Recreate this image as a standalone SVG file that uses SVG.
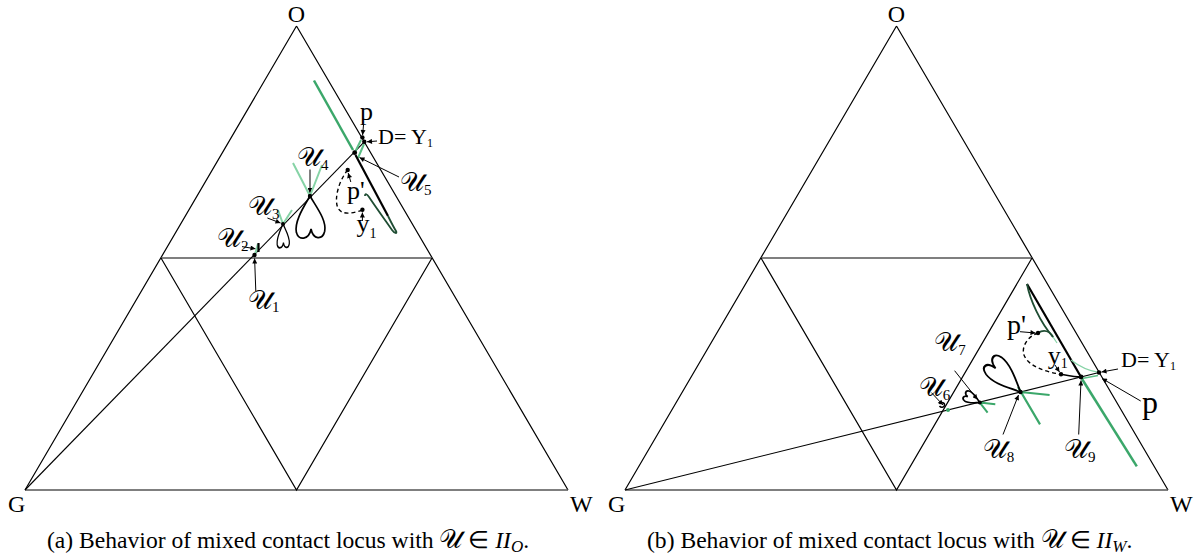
<svg xmlns="http://www.w3.org/2000/svg" xmlns:xlink="http://www.w3.org/1999/xlink" width="1202" height="560" viewBox="0 0 1202 560">
<style>
.edge{stroke:#000;stroke-width:1.2;fill:none}
.mid{stroke:#555;stroke-width:1.6;fill:none}
.ln{stroke:#000;stroke-width:1.1;fill:none}
.arr{stroke:#000;stroke-width:1;fill:none;marker-end:url(#ah)}
.g{stroke:#3ba76a;stroke-width:2.5;fill:none}
.lg{stroke:#86d3a6;stroke-width:2;fill:none}
.dg{stroke:#1f4d33;stroke-width:1.8;fill:none}
.bk{stroke:#000;stroke-width:2.2;fill:none}
.dash{stroke:#000;stroke-width:1.4;fill:none;stroke-dasharray:4 3}
.dot{fill:#000}
.heart{stroke:#000;stroke-width:1.6;fill:none}
text{font-family:"Liberation Serif","Times New Roman",serif;fill:#000}
.v{font-size:24px}
.u{font-size:27px}
.s{font-size:15px}
.cap{font-size:23.6px}
</style>
<defs>
<marker id="ah" viewBox="0 0 10 10" refX="10" refY="5" markerWidth="7" markerHeight="5" markerUnits="userSpaceOnUse" orient="auto"><path d="M0,0 L10,5 L0,10 Z" fill="#000"/></marker>
<path id="heart" d="M0,0 C -6,-10 -16,-22 -14,-32 C -12,-40 -3,-40 -1,-30 C 1,-40 11,-41 13,-33 C 15,-23 6,-10 0,0 Z"/>
</defs>

<g id="left-triangle">
<path class="edge" d="M296.5,26 L25,490 M296.5,26 L568,490"/>
<path class="mid" d="M161,258 L432,258 M25,490 L568,490"/>
<path class="edge" d="M161,258 L296.5,490 L432,258"/>
<text class="v" x="296.5" y="22" text-anchor="middle">O</text>
<text class="v" x="8" y="512">G</text>
<text class="v" x="570" y="512">W</text>
</g>

<g id="right-triangle">
<path class="edge" d="M896.5,26 L625,490 M896.5,26 L1168,490"/>
<path class="mid" d="M761,258 L1032,258 M625,490 L1168,490"/>
<path class="edge" d="M761,258 L896.5,490 L1032,258"/>
<text class="v" x="896.5" y="22" text-anchor="middle">O</text>
<text class="v" x="608" y="512">G</text>
<text class="v" x="1170" y="512">W</text>
</g>

<g id="connectors">
<path class="ln" d="M25,490 L364.3,141.8"/>
<path class="ln" d="M625,490 L1099,372.5"/>
<!-- left arrows -->
<path class="arr" d="M363.6,124 L362.6,135"/>
<path class="arr" d="M377,141 L367,141.8"/>
<path class="arr" d="M350.8,182 L348.2,173"/>
<path class="arr" d="M362.4,221 L362.4,212.5"/>
<path class="arr" d="M399,177 L359.5,157.5"/>
<path class="arr" d="M310,169.5 L310,193"/>
<path class="arr" d="M267.4,218 L280.5,223"/>
<path class="arr" d="M242,246.6 L255.5,248.8"/>
<path class="arr" d="M255.8,291 L254.6,258.5"/>
<!-- right arrows -->
<path class="arr" d="M1020,331.7 L1035.5,333"/>
<path class="arr" d="M1055,365 L1059.5,372"/>
<path class="arr" d="M1118,369 L1101.5,372"/>
<path class="arr" d="M1140.7,401 L1102,378.5"/>
<path class="arr" d="M1078.7,434.5 L1081,380.5"/>
<path class="arr" d="M1003,434.5 L1018.5,395"/>
<path class="arr" d="M954.6,370.7 L977.5,399.5"/>
<path class="arr" d="M931.4,392.6 L943,405"/>
</g>

<g id="left-loci">
<path class="g" d="M314,80.5 L353,150"/>
<path class="lg" d="M354.7,152.7 L361,140 M358,158 L364,144" style="stroke:#5cbf86"/>
<path class="lg" d="M310,196 L293,163 M310,196 L322,165"/>
<path class="lg" d="M283,224 L278,210 M283,224 L292,210"/>
<path class="lg" d="M255.5,253 L258,244" style="stroke-width:2.2"/>
<path class="bk" d="M258.5,243 L258.5,252"/>
<use href="#heart" xlink:href="#heart" class="heart" vector-effect="non-scaling-stroke" transform="translate(310,196) rotate(180) scale(1.05,1.1)"/>
<use href="#heart" xlink:href="#heart" class="heart" transform="translate(283,224) rotate(180) scale(0.45,0.62)" style="stroke-width:2.8"/>
<path class="bk" d="M355.5,155 L388,216"/>
<path class="dg" d="M388,216 C 391,222 394,228 396,231 C 397.5,234 394.5,233.5 392,230 C 385,220 375,206 369,197 C 367,194 365,193 365,196"/>
<path class="dash" d="M347.7,170 C 338,182 334,200 338,208 C 342,216 354,213 362.4,210"/>
<circle class="dot" cx="254.5" cy="255" r="2.2"/>
<circle class="dot" cx="283" cy="224" r="2"/>
<circle class="dot" cx="310" cy="196" r="2.2"/>
<circle class="dot" cx="354.7" cy="152.7" r="2.4"/>
<circle class="dot" cx="362.4" cy="137.4" r="2.2"/>
<circle class="dot" cx="364.3" cy="141.8" r="2.2"/>
<circle class="dot" cx="347.7" cy="170" r="2.2"/>
<circle class="dot" cx="362.4" cy="209.7" r="2.2"/>
</g>

<g id="left-labels">
<text x="360" y="120" style="font-size:26px">p</text>
<text x="378" y="143.6" style="font-size:22px">D= Y<tspan dy="3" style="font-size:12px">1</tspan></text>
<text x="347" y="199" style="font-size:26px">p'</text>
<text x="356.6" y="232" style="font-size:26px">y<tspan dy="6" style="font-size:14px">1</tspan></text>
<text class="u" x="400" y="191">𝒰<tspan class="s" dy="4">5</tspan></text>
<text class="u" x="297" y="166">𝒰<tspan class="s" dy="4">4</tspan></text>
<text class="u" x="248" y="214.8">𝒰<tspan class="s" dy="4">3</tspan></text>
<text class="u" x="217" y="246.6">𝒰<tspan class="s" dy="4">2</tspan></text>
<text class="u" x="248" y="308.7">𝒰<tspan class="s" dy="3">1</tspan></text>
</g>

<g id="right-loci">
<path class="bk" d="M1027,284 L1081,377"/>
<path class="g" d="M1082,379 L1136.8,466.4"/>
<path class="dg" d="M1027,284 C 1030,300 1040,322 1053,337"/>
<path class="dg" d="M1038,333 C 1044,329 1050,331 1053,337"/>
<path class="lg" d="M1053,337 L1057,343" style="stroke-width:1.2"/>
<path class="lg" d="M1071,360 C 1080,367 1089,371 1099,372.5" style="stroke-width:1.3"/>
<path class="lg" d="M1082,378.5 L1098,375.5" style="stroke-width:1.5;stroke:#5cbf86"/>
<path class="dash" d="M1038,333 C 1028,336 1021,347 1024,355 C 1028,366 1045,372 1061,374.2"/>
<path class="dg" d="M1061,374.2 C 1068,375.5 1075,377 1081,377" style="stroke:#000;stroke-width:1.5"/>
<path class="g" d="M1018,387 L1040,424.4 M1020.5,392 L1049.6,395" style="stroke-width:2.2"/>
<path class="g" d="M979.8,402.6 L995.3,404.3 M979.8,402.6 L987.6,412.7" style="stroke-width:2"/>
<use href="#heart" xlink:href="#heart" class="heart" transform="translate(1020.5,392) rotate(-45) scale(0.85,1.15)" style="stroke-width:2"/>
<use href="#heart" xlink:href="#heart" class="heart" transform="translate(979.8,402.6) rotate(-62) scale(0.4,0.45)" style="stroke-width:4"/>
<path class="bk" d="M939.5,404 c2,-2.5 5.5,-1.5 5,1.5 c-0.5,2 -3.5,2.5 -5,0.5" style="stroke-width:1.5"/>
<circle cx="948" cy="410" r="2" fill="#3ba76a"/>
<circle class="dot" cx="1020.5" cy="392" r="2.2"/>
<circle class="dot" cx="979.8" cy="402.6" r="2"/>
<circle class="dot" cx="1081" cy="377" r="2.4"/>
<circle class="dot" cx="1099" cy="372.5" r="2.2"/>
<circle class="dot" cx="1038" cy="333" r="2.2"/>
<circle class="dot" cx="1061" cy="374.2" r="2.2"/>
</g>

<g id="right-labels">
<text x="1007" y="334" style="font-size:28px">p'</text>
<text x="1047.7" y="364" style="font-size:26px">y<tspan dy="4" style="font-size:14px">1</tspan></text>
<text x="1121" y="367.4" style="font-size:22px">D= Y<tspan dy="3" style="font-size:12px">1</tspan></text>
<text x="1142" y="413" style="font-size:32px">p</text>
<text class="u" x="1064" y="458">𝒰<tspan class="s" dy="4">9</tspan></text>
<text class="u" x="982.7" y="458">𝒰<tspan class="s" dy="4">8</tspan></text>
<text class="u" x="934.3" y="350.6">𝒰<tspan class="s" dy="4">7</tspan></text>
<text class="u" x="918.8" y="396">𝒰<tspan class="s" dy="4">6</tspan></text>
</g>

<g id="captions">
<text class="cap" x="47" y="548">(a)  Behavior of mixed contact locus with <tspan style="font-size:26px">𝒰</tspan> ∈ <tspan font-style="italic">II</tspan><tspan font-style="italic" dy="4" style="font-size:17px">O</tspan><tspan dy="-4">.</tspan></text>
<text class="cap" x="647" y="548">(b)  Behavior of mixed contact locus with <tspan style="font-size:26px">𝒰</tspan> ∈ <tspan font-style="italic">II</tspan><tspan font-style="italic" dy="4" style="font-size:17px">W</tspan><tspan dy="-4">.</tspan></text>
</g>
</svg>
